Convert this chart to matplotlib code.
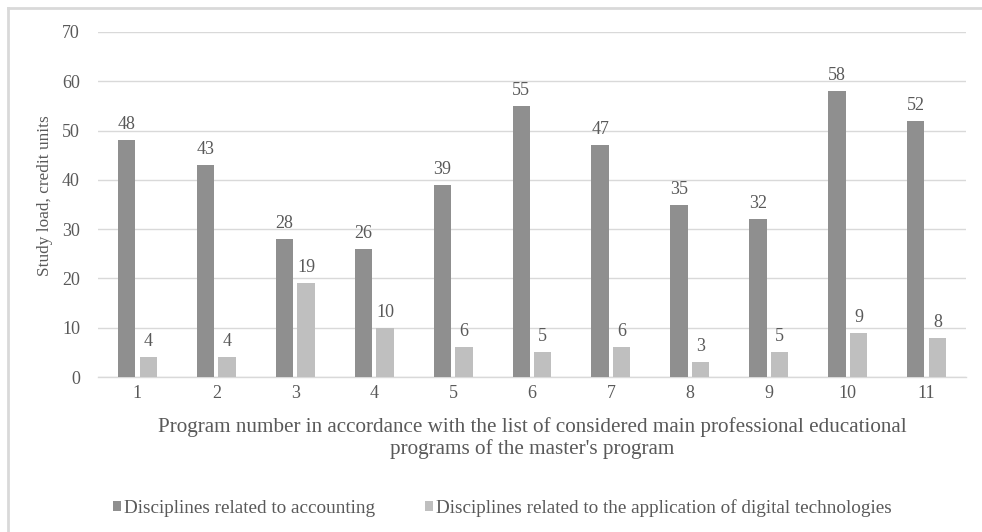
import matplotlib
matplotlib.use("Agg")
import matplotlib.pyplot as plt
import numpy as np
from matplotlib.patches import Patch
from matplotlib.lines import Line2D

plt.rcParams['font.family'] = ['Liberation Serif', 'DejaVu Serif']

programs = ["1", "2", "3", "4", "5", "6", "7", "8", "9", "10", "11"]
accounting = [48, 43, 28, 26, 39, 55, 47, 35, 32, 58, 52]
digital = [4, 4, 19, 10, 6, 5, 6, 3, 5, 9, 8]
series_names = ["Disciplines related to accounting",
                "Disciplines related to the application of digital technologies"]
y_ticks = [0, 10, 20, 30, 40, 50, 60, 70]

dark = "#8f8f8f"
light = "#bfbfbf"
text_c = "#595959"
grid_c = "#d9d9d9"

W, H = 982, 532
fig = plt.figure(figsize=(W / 100, H / 100), dpi=100)
ax = fig.add_axes([98 / W, 1 - 377 / H, (966 - 98) / W, (377 - 32) / H])

x = np.arange(len(programs))
bw = 0.22
off = 0.137
b1 = ax.bar(x - off, accounting, bw, color=dark, zorder=3)
b2 = ax.bar(x + off, digital, bw, color=light, zorder=3)

for rects, vals in ((b1, accounting), (b2, digital)):
    for r, v in zip(rects, vals):
        ax.annotate(str(v), (r.get_x() + r.get_width() / 2, v),
                    xytext=(0, 5), textcoords="offset points",
                    ha="center", va="bottom", fontsize=13, color=text_c)

ax.set_xlim(-0.5, len(programs) - 0.5)
ax.set_ylim(0, 70)
ax.set_yticks(y_ticks)
ax.set_xticks(x)
ax.set_xticklabels(programs)
ax.tick_params(length=0, labelsize=13, labelcolor=text_c)
ax.tick_params(axis='y', pad=13)
ax.tick_params(axis='x', pad=6)
ax.yaxis.grid(True, color=grid_c, linewidth=1, zorder=0)
for s in ("top", "right", "left"):
    ax.spines[s].set_visible(False)
ax.spines["bottom"].set_color(grid_c)
ax.spines["bottom"].set_linewidth(1)

fig.text(45 / W, 1 - 196 / H, "Study load, credit units", rotation=90,
         ha="center", va="center", fontsize=12.4, color=text_c)
fig.text(532 / W, 1 - 438 / H,
         "Program number in accordance with the list of considered main professional educational\n"
         "programs of the master's program",
         ha="center", va="center", fontsize=15.2, color=text_c, linespacing=1.15)

handles = [Patch(facecolor=dark), Patch(facecolor=light)]
fig.legend(handles, series_names, loc="center", bbox_to_anchor=(502.5 / W, 1 - 508 / H),
           ncol=2, frameon=False, fontsize=13.8, labelcolor=text_c,
           handlelength=0.42, handleheight=0.42, handletextpad=0.15, columnspacing=2.6)

# outer frame (left and top edges)
fig.add_artist(Line2D([8 / W, 8 / W], [0, 1 - 8 / H], color=grid_c, linewidth=2,
                      transform=fig.transFigure))
fig.add_artist(Line2D([8 / W, 1], [1 - 8 / H, 1 - 8 / H], color=grid_c, linewidth=2,
                      transform=fig.transFigure))

fig.savefig("out.png", dpi=100)
